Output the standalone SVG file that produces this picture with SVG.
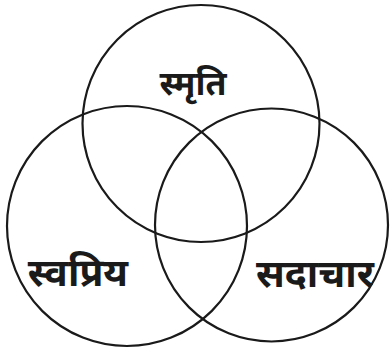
<svg xmlns="http://www.w3.org/2000/svg" width="390" height="351" viewBox="0 0 390 351">
<style>
.c{fill:none;stroke:#1a1a1a;stroke-width:2.2}
.t{font-family:"Noto Sans Devanagari","Noto Sans","Lohit Devanagari","FreeSans","DejaVu Sans",sans-serif;font-weight:bold;fill:#1a1a1a;text-anchor:middle}
</style>
<rect width="390" height="351" fill="#fff"/>
<g id="smriti">
<circle class="c" cx="201" cy="123.5" r="118.5"/>
<text class="t" x="193" y="95" font-size="34">स्मृति</text>
</g>
<g id="svapriya">
<circle class="c" cx="127" cy="226" r="120"/>
<text class="t" x="78" y="286" font-size="39">स्वप्रिय</text>
</g>
<g id="sadachar">
<circle class="c" cx="271.5" cy="225" r="116.5"/>
<text class="t" x="315" y="287" font-size="39">सदाचार</text>
</g>
</svg>
